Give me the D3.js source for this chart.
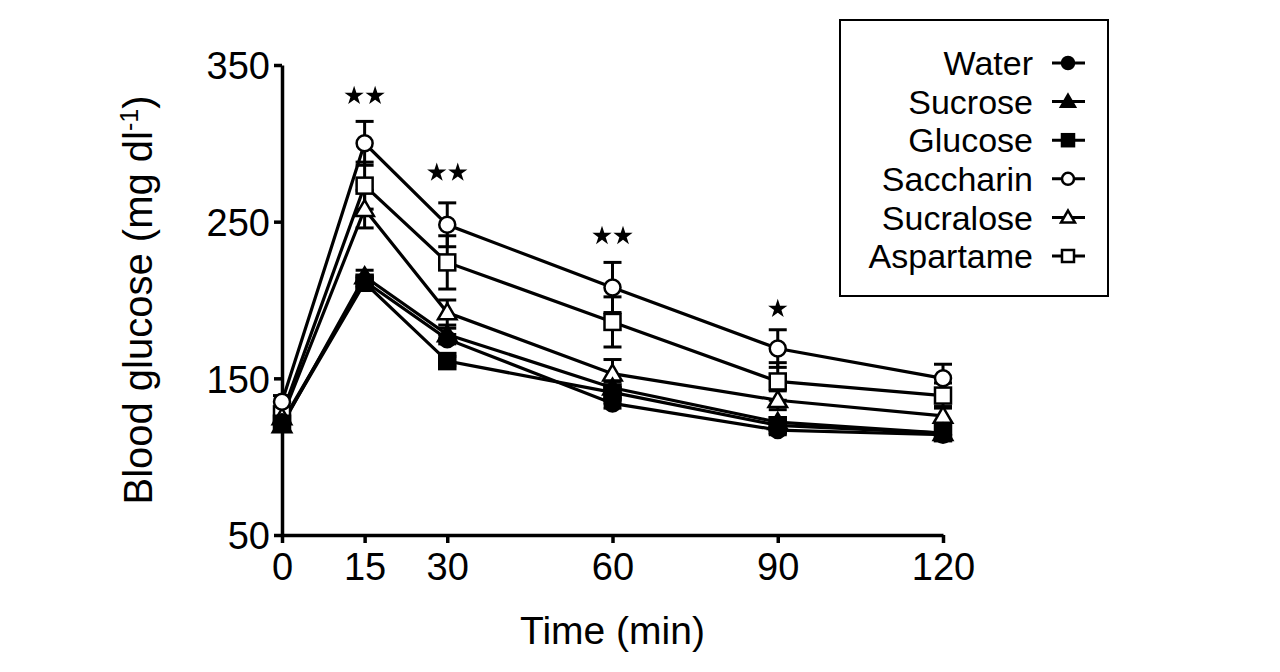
<!DOCTYPE html>
<html>
<head>
<meta charset="utf-8">
<script src="https://cdn.jsdelivr.net/npm/d3@7"></script>
<style>
    body { margin: 0; background: #fff; }
    text { font-family: "Liberation Sans", Arial, sans-serif; fill: #000; }
</style>
</head>
<body>
<div id="chart"></div>
<script>
// time points (min)
const times = [0, 15, 30, 60, 90, 120];

// mean blood glucose (mg/dl) per group
const water = [122, 212, 175, 134, 117, 114];
const sucrose = [120, 215, 178, 144, 122, 115];
const glucose = [121, 211, 161, 141, 120, 115];
const saccharin = [135, 300, 248, 208, 169, 150];
const sucralose = [125, 258, 192, 153, 136, 126];
const aspartame = [127, 273, 224, 186, 148, 139];

// SEM per group
const waterErr = [3, 3, 3, 3, 3, 3];
const sucroseErr = [3, 4, 4, 4, 3, 3];
const glucoseErr = [3, 3, 3, 3, 3, 3];
const saccharinErr = [4, 14, 14, 16, 12, 9];
const sucraloseErr = [4, 12, 8, 9, 6, 6];
const aspartameErr = [4, 15, 17, 16, 12, 8];

// significance marks
const sigTimes = [15, 30, 60, 90];
const sigStars = [2, 2, 2, 1];
const sigLevel = [331, 282, 241.5, 195];

const yTicks = [50, 150, 250, 350];

const groups = [
    { name: 'Water', values: water, err: waterErr, shape: 'circle', filled: true },
    { name: 'Sucrose', values: sucrose, err: sucroseErr, shape: 'triangle', filled: true },
    { name: 'Glucose', values: glucose, err: glucoseErr, shape: 'square', filled: true },
    { name: 'Saccharin', values: saccharin, err: saccharinErr, shape: 'circle', filled: false },
    { name: 'Sucralose', values: sucralose, err: sucraloseErr, shape: 'triangle', filled: false },
    { name: 'Aspartame', values: aspartame, err: aspartameErr, shape: 'square', filled: false }
];

const width = 1280;
const height = 672;

const svg = d3.select('#chart')
    .append('svg')
    .attr('width', width)
    .attr('height', height);

const x = d3.scaleLinear().domain([0, 120]).range([282, 943]);
const y = d3.scaleLinear().domain([50, 350]).range([535, 65]);

// axes
const xAxis = svg.append('g')
    .attr('transform', `translate(0, ${y(50)})`)
    .call(d3.axisBottom(x).tickValues(times).tickSize(8).tickPadding(8).tickSizeOuter(0));

const yAxis = svg.append('g')
    .attr('transform', `translate(${x(0)}, 0)`)
    .call(d3.axisLeft(y).tickValues(yTicks).tickSize(8).tickPadding(4).tickSizeOuter(0));

[xAxis, yAxis].forEach(a => {
    a.select('.domain').attr('stroke', '#000').attr('stroke-width', 3.5);
    a.selectAll('.tick line').attr('stroke', '#000').attr('stroke-width', 3.5);
    a.selectAll('.tick text')
        .style('font-family', '"Liberation Sans", Arial, sans-serif')
        .style('font-size', '38px')
        .attr('fill', '#000');
});
xAxis.selectAll('.tick text').attr('dy', '0.75em');
yAxis.selectAll('.tick text').attr('dy', '0.36em');

// axis titles
svg.append('text')
    .attr('x', (x(0) + x(120)) / 2)
    .attr('y', 644)
    .attr('text-anchor', 'middle')
    .style('font-size', '39px')
    .text('Time (min)');

const yTitle = svg.append('text')
    .attr('transform', `translate(152, ${(y(50) + y(350)) / 2}) rotate(-90)`)
    .attr('text-anchor', 'middle')
    .style('font-size', '40px');
yTitle.append('tspan').text('Blood glucose (mg dl');
yTitle.append('tspan').attr('dy', -14).style('font-size', '25px').text('-1');
yTitle.append('tspan').attr('dy', 14).text(')');

const line = d3.line()
    .x((d, i) => x(times[i]))
    .y(d => y(d));

// lines
svg.append('g')
    .selectAll('path')
    .data(groups)
    .join('path')
    .attr('d', d => line(d.values))
    .attr('fill', 'none')
    .attr('stroke', '#000')
    .attr('stroke-width', 3.2);

// error bars
const capW = 9;
groups.forEach(g => {
    const eg = svg.append('g').attr('stroke', '#000').attr('stroke-width', 3);
    g.values.forEach((v, i) => {
        const cx = x(times[i]);
        eg.append('line')
            .attr('x1', cx).attr('x2', cx)
            .attr('y1', y(v - g.err[i])).attr('y2', y(v + g.err[i]));
        [v - g.err[i], v + g.err[i]].forEach(e => {
            eg.append('line')
                .attr('x1', cx - capW).attr('x2', cx + capW)
                .attr('y1', y(e)).attr('y2', y(e));
        });
    });
});

function drawMarker(sel, shape, filled, cx, cy, s) {
    const fill = filled ? '#000' : '#fff';
    if (shape === 'circle') {
        sel.append('circle')
            .attr('cx', cx).attr('cy', cy).attr('r', s * 0.5)
            .attr('fill', fill).attr('stroke', '#000').attr('stroke-width', 2.5);
    } else if (shape === 'square') {
        sel.append('rect')
            .attr('x', cx - s / 2).attr('y', cy - s / 2)
            .attr('width', s).attr('height', s)
            .attr('fill', fill).attr('stroke', '#000').attr('stroke-width', 2.5);
    } else {
        const h = s * 0.95;
        const pts = [[cx, cy - h * 0.6], [cx + s * 0.58, cy + h * 0.45], [cx - s * 0.58, cy + h * 0.45]];
        sel.append('path')
            .attr('d', 'M' + pts.map(p => p.join(',')).join('L') + 'Z')
            .attr('fill', fill).attr('stroke', '#000').attr('stroke-width', 2.5)
            .attr('stroke-linejoin', 'miter');
    }
}

// markers, open groups under the filled ones
const markers = svg.append('g');
groups.slice().reverse().forEach(g => {
    g.values.forEach((v, i) => {
        drawMarker(markers, g.shape, g.filled, x(times[i]), y(v), 16);
    });
});

// significance stars
const star = d3.symbol().type(d3.symbolStar).size(115);
sigTimes.forEach((t, i) => {
    const n = sigStars[i];
    for (let k = 0; k < n; k++) {
        const sx = x(t) + (k - (n - 1) / 2) * 21;
        svg.append('path')
            .attr('d', star())
            .attr('transform', `translate(${sx}, ${y(sigLevel[i]) + 1})`)
            .attr('fill', '#000');
    }
});

// legend
const legend = svg.append('g');
legend.append('rect')
    .attr('x', 840).attr('y', 20)
    .attr('width', 268).attr('height', 276)
    .attr('fill', '#fff')
    .attr('stroke', '#000')
    .attr('stroke-width', 2);

const legendY = d3.scaleLinear().domain([0, 5]).range([63, 256]);
groups.forEach((g, i) => {
    const ly = legendY(i);
    legend.append('text')
        .attr('x', 1033)
        .attr('y', ly)
        .attr('dy', '0.36em')
        .attr('text-anchor', 'end')
        .style('font-size', '34px')
        .text(g.name);
    legend.append('line')
        .attr('x1', 1052).attr('x2', 1085)
        .attr('y1', ly).attr('y2', ly)
        .attr('stroke', '#000').attr('stroke-width', 3);
    drawMarker(legend, g.shape, g.filled, 1068, ly, 12);
});
</script>
</body>
</html>
